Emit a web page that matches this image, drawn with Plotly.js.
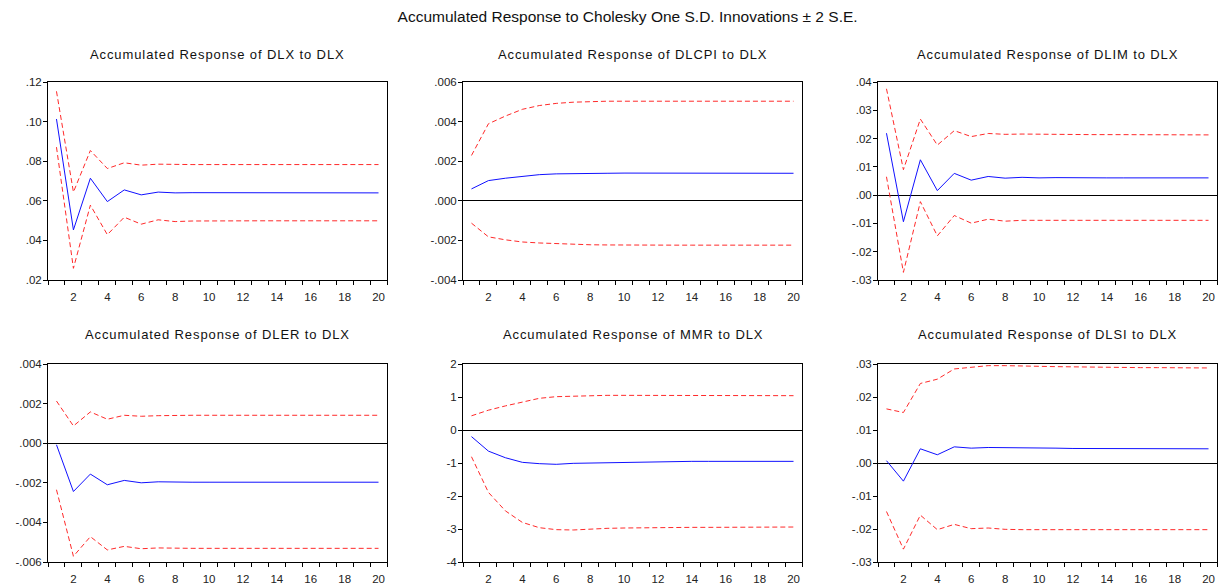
<!DOCTYPE html>
<html>
<head>
<meta charset="utf-8">
<script src="https://cdn.plot.ly/plotly-3.0.1.min.js"></script>
<style>
html,body{margin:0;padding:0;background:#fff;}
#chart{width:1221px;height:586px;}
.annotation-text{letter-spacing:0.9px;}
</style>
</head>
<body>
<div id="chart"></div>
<script>
// ---- data ----
const periods = [1,2,3,4,5,6,7,8,9,10,11,12,13,14,15,16,17,18,19,20];
const xTickVals = [2,4,6,8,10,12,14,16,18,20];

const panelTitles = [
  "Accumulated Response of DLX to DLX",
  "Accumulated Response of DLCPI to DLX",
  "Accumulated Response of DLIM to DLX",
  "Accumulated Response of DLER to DLX",
  "Accumulated Response of MMR to DLX",
  "Accumulated Response of DLSI to DLX"
];
const mainTitle = "Accumulated Response to Cholesky One S.D. Innovations \u00b1 2 S.E.";

// DLX
const dlxResp  = [0.1013,0.0453,0.0714,0.0596,0.0655,0.0630,0.0644,0.0640,0.0641,0.0641,0.0641,0.0640,0.0640,0.0640,0.0640,0.0640,0.0640,0.0640,0.0640,0.0640];
const dlxUpper = [0.1153,0.0644,0.0854,0.0763,0.0792,0.0780,0.0785,0.0783,0.0783,0.0783,0.0783,0.0783,0.0783,0.0783,0.0783,0.0783,0.0783,0.0783,0.0783,0.0783];
const dlxLower = [0.0871,0.0259,0.0578,0.0429,0.0517,0.0482,0.0504,0.0495,0.0498,0.0499,0.0499,0.0499,0.0499,0.0499,0.0499,0.0499,0.0499,0.0499,0.0499,0.0499];
const dlxTickVals = [0.02,0.04,0.06,0.08,0.10,0.12];
const dlxTickText = [".02",".04",".06",".08",".10",".12"];
const dlxRange = [0.02,0.12];

// DLCPI
const dlcpiResp  = [0.00060,0.00102,0.00114,0.00124,0.00132,0.00136,0.00138,0.00139,0.00139,0.00140,0.00140,0.00139,0.00139,0.00139,0.00139,0.00139,0.00139,0.00139,0.00139,0.00139];
const dlcpiUpper = [0.00229,0.00389,0.00428,0.00462,0.00481,0.00492,0.00498,0.00502,0.00503,0.00503,0.00503,0.00503,0.00503,0.00503,0.00503,0.00503,0.00503,0.00503,0.00503,0.00503];
const dlcpiLower = [-0.00113,-0.00182,-0.00197,-0.00208,-0.00213,-0.00217,-0.00220,-0.00222,-0.00223,-0.00224,-0.00224,-0.00224,-0.00224,-0.00224,-0.00224,-0.00224,-0.00224,-0.00224,-0.00224,-0.00224];
const dlcpiTickVals = [-0.004,-0.002,0,0.002,0.004,0.006];
const dlcpiTickText = ["-.004","-.002",".000",".002",".004",".006"];
const dlcpiRange = [-0.004,0.006];

// DLIM
const dlimResp  = [0.0219,-0.0094,0.0125,0.0016,0.0077,0.0053,0.0066,0.0060,0.0063,0.0061,0.0062,0.0061,0.0061,0.0061,0.0061,0.0061,0.0061,0.0061,0.0061,0.0061];
const dlimUpper = [0.0376,0.0090,0.0269,0.0177,0.0228,0.0207,0.0218,0.0215,0.0216,0.0215,0.0215,0.0214,0.0214,0.0214,0.0214,0.0213,0.0213,0.0213,0.0213,0.0213];
const dlimLower = [0.0065,-0.0273,-0.0023,-0.0144,-0.0072,-0.0099,-0.0085,-0.0092,-0.0089,-0.0089,-0.0089,-0.0089,-0.0089,-0.0089,-0.0089,-0.0089,-0.0089,-0.0089,-0.0089,-0.0089];
const dlimTickVals = [-0.03,-0.02,-0.01,0,0.01,0.02,0.03,0.04];
const dlimTickText = ["-.03","-.02","-.01",".00",".01",".02",".03",".04"];
const dlimRange = [-0.03,0.04];

// DLER
const dlerResp  = [-0.00008,-0.00244,-0.00156,-0.00210,-0.00188,-0.00200,-0.00195,-0.00197,-0.00197,-0.00197,-0.00197,-0.00197,-0.00197,-0.00197,-0.00197,-0.00197,-0.00197,-0.00197,-0.00197,-0.00197];
const dlerUpper = [0.00213,0.00087,0.00158,0.00121,0.00141,0.00136,0.00139,0.00141,0.00141,0.00141,0.00141,0.00141,0.00141,0.00141,0.00141,0.00141,0.00141,0.00141,0.00141,0.00141];
const dlerLower = [-0.00235,-0.00571,-0.00472,-0.00539,-0.00521,-0.00533,-0.00529,-0.00531,-0.00531,-0.00531,-0.00531,-0.00531,-0.00531,-0.00531,-0.00531,-0.00531,-0.00531,-0.00531,-0.00531,-0.00531];
const dlerTickVals = [-0.006,-0.004,-0.002,0,0.002,0.004];
const dlerTickText = ["-.006","-.004","-.002",".000",".002",".004"];
const dlerRange = [-0.006,0.004];

// MMR
const mmrResp  = [-0.20,-0.64,-0.84,-0.98,-1.02,-1.04,-1.01,-1.00,-0.99,-0.97,-0.96,-0.955,-0.95,-0.95,-0.95,-0.95,-0.95,-0.95,-0.95,-0.95];
const mmrUpper = [0.43,0.60,0.73,0.85,0.96,1.01,1.03,1.04,1.05,1.05,1.05,1.05,1.04,1.04,1.04,1.04,1.04,1.04,1.04,1.04];
const mmrLower = [-0.81,-1.89,-2.45,-2.80,-2.96,-3.02,-3.03,-3.00,-2.98,-2.97,-2.96,-2.95,-2.95,-2.95,-2.95,-2.95,-2.95,-2.94,-2.94,-2.94];
const mmrTickVals = [-4,-3,-2,-1,0,1,2];
const mmrTickText = ["-4","-3","-2","-1","0","1","2"];
const mmrRange = [-4,2];

// DLSI
const dlsiResp  = [0.0007,-0.0055,0.0043,0.0025,0.0049,0.0045,0.0047,0.0047,0.0046,0.0045,0.0045,0.0044,0.0044,0.0044,0.0043,0.0043,0.0043,0.0043,0.0043,0.0043];
const dlsiUpper = [0.0164,0.0153,0.0241,0.0254,0.0285,0.0289,0.0295,0.0295,0.0295,0.0293,0.0292,0.0291,0.0290,0.0290,0.0289,0.0289,0.0289,0.0288,0.0288,0.0288];
const dlsiLower = [-0.0147,-0.0261,-0.0158,-0.0202,-0.0186,-0.0199,-0.0197,-0.0201,-0.0202,-0.0202,-0.0202,-0.0202,-0.0202,-0.0202,-0.0202,-0.0202,-0.0202,-0.0202,-0.0202,-0.0202];
const dlsiTickVals = [-0.03,-0.02,-0.01,0,0.01,0.02,0.03];
const dlsiTickText = ["-.03","-.02","-.01",".00",".01",".02",".03"];
const dlsiRange = [-0.03,0.03];

// ---- build ----
const panels = [
  {resp: dlxResp, up: dlxUpper, lo: dlxLower, tv: dlxTickVals, tt: dlxTickText, range: dlxRange},
  {resp: dlcpiResp, up: dlcpiUpper, lo: dlcpiLower, tv: dlcpiTickVals, tt: dlcpiTickText, range: dlcpiRange},
  {resp: dlimResp, up: dlimUpper, lo: dlimLower, tv: dlimTickVals, tt: dlimTickText, range: dlimRange},
  {resp: dlerResp, up: dlerUpper, lo: dlerLower, tv: dlerTickVals, tt: dlerTickText, range: dlerRange},
  {resp: mmrResp, up: mmrUpper, lo: mmrLower, tv: mmrTickVals, tt: mmrTickText, range: mmrRange},
  {resp: dlsiResp, up: dlsiUpper, lo: dlsiLower, tv: dlsiTickVals, tt: dlsiTickText, range: dlsiRange}
];

const W = 1221, H = 586;
const colPx = [[48,387],[463,802],[878,1217]];
const rowPx = [[82,280],[364,562]];
const titleYpx = [54,334];

const FONT = "Liberation Sans, Arial, Helvetica, sans-serif";
const traces = [];
const layout = {
  width: W, height: H,
  margin: {l:0, r:0, t:0, b:0},
  paper_bgcolor: "#fff", plot_bgcolor: "#fff",
  showlegend: false,
  font: {family: FONT, size: 11.5, color: "#222"},
  annotations: [],
  title: {text: mainTitle, x: 0.514, xanchor: "center", y: 1 - 17/H, yanchor: "middle",
          font: {family: FONT, size: 15.5, color: "#111"}}
};

panels.forEach((p, i) => {
  const r = Math.floor(i / 3), c = i % 3;
  const sfx = i === 0 ? "" : String(i + 1);
  const xa = "x" + sfx, ya = "y" + sfx;
  const redLine = {color: "#ff2a2a", width: 1, dash: "5px,3px"};
  traces.push({x: periods, y: p.up, xaxis: xa, yaxis: ya, type: "scatter", mode: "lines", line: redLine, hoverinfo: "skip"});
  traces.push({x: periods, y: p.lo, xaxis: xa, yaxis: ya, type: "scatter", mode: "lines", line: redLine, hoverinfo: "skip"});
  traces.push({x: periods, y: p.resp, xaxis: xa, yaxis: ya, type: "scatter", mode: "lines", line: {color: "#1010ff", width: 1}, hoverinfo: "skip"});

  const xd = [colPx[c][0] / W, colPx[c][1] / W];
  const yd = [1 - rowPx[r][1] / H, 1 - rowPx[r][0] / H];
  layout["xaxis" + sfx] = {
    domain: xd, anchor: ya, range: [0.5, 20.5],
    showgrid: false, zeroline: false,
    showline: true, linecolor: "#000", linewidth: 1, mirror: true,
    tickmode: "array", tickvals: xTickVals, ticktext: xTickVals.map(String),
    ticks: "outside", ticklen: 6, tickcolor: "rgba(0,0,0,0)",
    tickfont: {family: FONT, size: 11.5, color: "#222"},
    minor: {tickmode: "linear", tick0: 0.5, dtick: 1, ticks: "outside", ticklen: 4, tickcolor: "#000", tickwidth: 1, showgrid: false},
    fixedrange: true
  };
  layout["yaxis" + sfx] = {
    domain: yd, anchor: xa, range: p.range,
    showgrid: false,
    zeroline: true, zerolinecolor: "#000", zerolinewidth: 1,
    showline: true, linecolor: "#000", linewidth: 1, mirror: true,
    tickmode: "array", tickvals: p.tv, ticktext: p.tt,
    ticks: "outside", ticklen: 4, tickcolor: "#000", tickwidth: 1,
    ticklabelstandoff: -1,
    tickfont: {family: FONT, size: 11.5, color: "#222"},
    fixedrange: true
  };
  layout.annotations.push({
    text: panelTitles[i], xref: "paper", yref: "paper",
    x: (colPx[c][0] + colPx[c][1]) / 2 / W, y: 1 - titleYpx[r] / H,
    xanchor: "center", yanchor: "middle", showarrow: false,
    font: {family: FONT, size: 13, color: "#111"}
  });
});

Plotly.newPlot("chart", traces, layout, {staticPlot: true, displayModeBar: false});
</script>
</body>
</html>
